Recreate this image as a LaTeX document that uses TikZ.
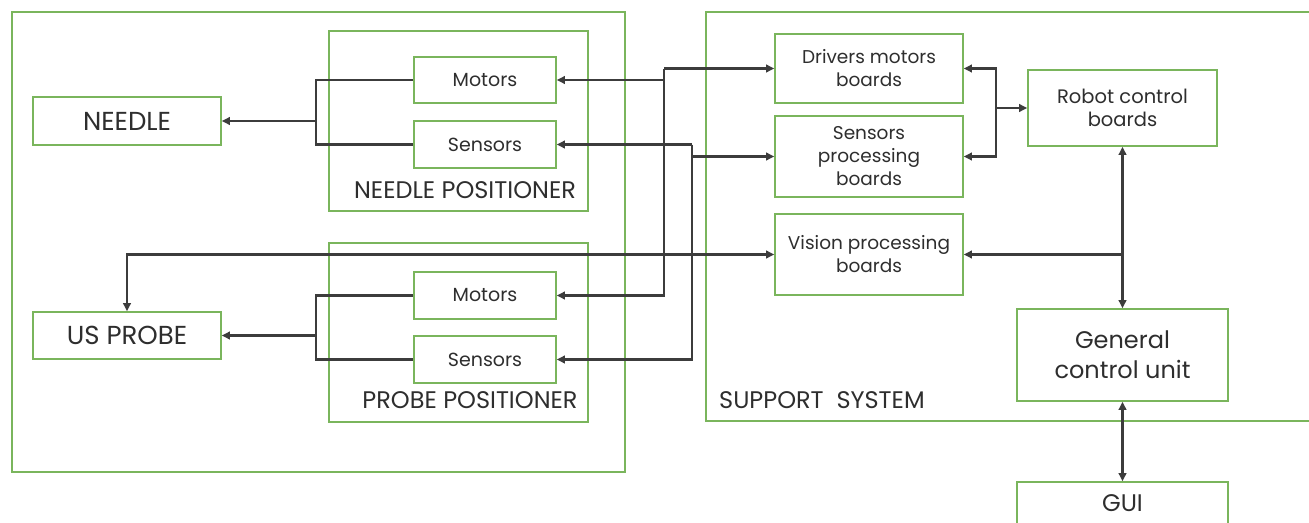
\documentclass[tikz,border=0pt]{standalone}
\usepackage{fontspec}
\setmainfont{Poppins}
\usetikzlibrary{arrows.meta}
\definecolor{bgreen}{HTML}{7AB55C}
\definecolor{lgray}{HTML}{3C3C3C}
\definecolor{tgray}{HTML}{2E2E2E}
\tikzset{
  box/.style={draw=bgreen, line width=1.6pt, fill=white, text=tgray, align=center, inner sep=0pt},
  grp/.style={draw=bgreen, line width=1.6pt, inner sep=0pt},
  conn/.style={draw=lgray, line width=2.4pt, -{Triangle[length=8pt,width=7.5pt]}},
  dconn/.style={draw=lgray, line width=2.4pt, {Triangle[length=8pt,width=7.5pt]}-{Triangle[length=8pt,width=7.5pt]}},
  plain/.style={draw=lgray, line width=2.4pt},
  sm/.style={font=\fontsize{18.5}{23}\selectfont},
  ms/.style={font=\fontsize{19}{23}\selectfont},
  rb/.style={font=\fontsize{19.5}{23}\selectfont},
  lg/.style={font=\fontsize{24}{30}\selectfont},
  xl/.style={font=\fontsize{26}{30}\selectfont},
  lbl/.style={text=tgray, inner sep=0pt},
}
\begin{document}
\begin{tikzpicture}[x=1pt,y=-1pt]
\useasboundingbox (0,0) rectangle (1309,522);
\clip (0,0) rectangle (1309,522);
\fill[white] (0,0) rectangle (1309,522);
% groups
\node[grp, minimum width=613, minimum height=460] (left) at (318.5,242) {};
\node[grp, minimum width=640, minimum height=409] (support) at (1026,216.5) {};
\node[grp, minimum width=259, minimum height=180] (npos) at (458.5,121) {};
\node[grp, minimum width=259, minimum height=179] (ppos) at (458.5,332.5) {};
\node[lbl, lg] (nposl) at (465,190) {NEEDLE POSITIONER};
\node[lbl, lg] (pposl) at (470,400) {PROBE POSITIONER};
\node[lbl, lg, anchor=west] (supl) at (719,400) {SUPPORT\ \ SYSTEM};
% boxes
\node[box, ms, minimum width=142, minimum height=46] (motN) at (485,80) {Motors};
\node[box, ms, minimum width=142, minimum height=47] (senN) at (485,144.5) {Sensors};
\node[box, ms, minimum width=142, minimum height=47] (motP) at (485,295.5) {Motors};
\node[box, ms, minimum width=142, minimum height=47] (senP) at (485,359.5) {Sensors};
\node[box, xl, minimum width=188, minimum height=48] (needle) at (127,121) {NEEDLE};
\node[box, xl, minimum width=188, minimum height=47] (probe) at (127,335.5) {US PROBE};
\node[box, sm, minimum width=188, minimum height=69] (drv) at (869,68.5) {Drivers motors\\boards};
\node[box, sm, minimum width=188, minimum height=81] (spb) at (869,156.5) {Sensors\\processing\\boards};
\node[box, sm, minimum width=188, minimum height=81] (vpb) at (869,254.5) {Vision processing\\boards};
\node[box, rb, minimum width=189, minimum height=76] (rcb) at (1122.5,108) {Robot control\\boards};
\node[box, lg, minimum width=211, minimum height=92] (gcu) at (1122.5,355) {General\\control unit};
\node[box, lg, minimum width=211, minimum height=42] (gui) at (1122.5,503) {GUI};
% junction coordinates
\coordinate (jn) at (316,121);
\coordinate (jp) at (316,335.5);
\coordinate (jm) at (664,68.5);
\coordinate (js) at (692,144.5);
\coordinate (jr) at (996,108);
% left brackets
\draw[plain] (motN.west) -| (jn) |- (senN.west);
\draw[conn] (jn) -- (needle.east);
\draw[plain] (motP.west) -| (jp) |- (senP.west);
\draw[conn] (jp) -- (probe.east);
% motors bus
\draw[conn] (jm) -- (drv.west);
\draw[conn] (jm) |- (motP.east);
\draw[conn] (motN.east -| jm) -- (motN.east);
% sensors bus
\draw[conn] (js) -- (senN.east);
\draw[conn] (js) |- (senP.east);
\draw[conn] (js |- spb.west) -- (spb.west);
% vision
\draw[dconn] (vpb.west) -| (probe.north);
% right side
\draw[conn] (jr) -- (rcb.west);
\draw[conn] (jr) |- (drv.east);
\draw[conn] (jr) |- (spb.east);
\draw[dconn] (rcb.south) -- (gcu.north);
\draw[conn] (rcb.south |- vpb.east) -- (vpb.east);
\draw[dconn] (gcu.south) -- (gui.north);
\end{tikzpicture}
\end{document}
